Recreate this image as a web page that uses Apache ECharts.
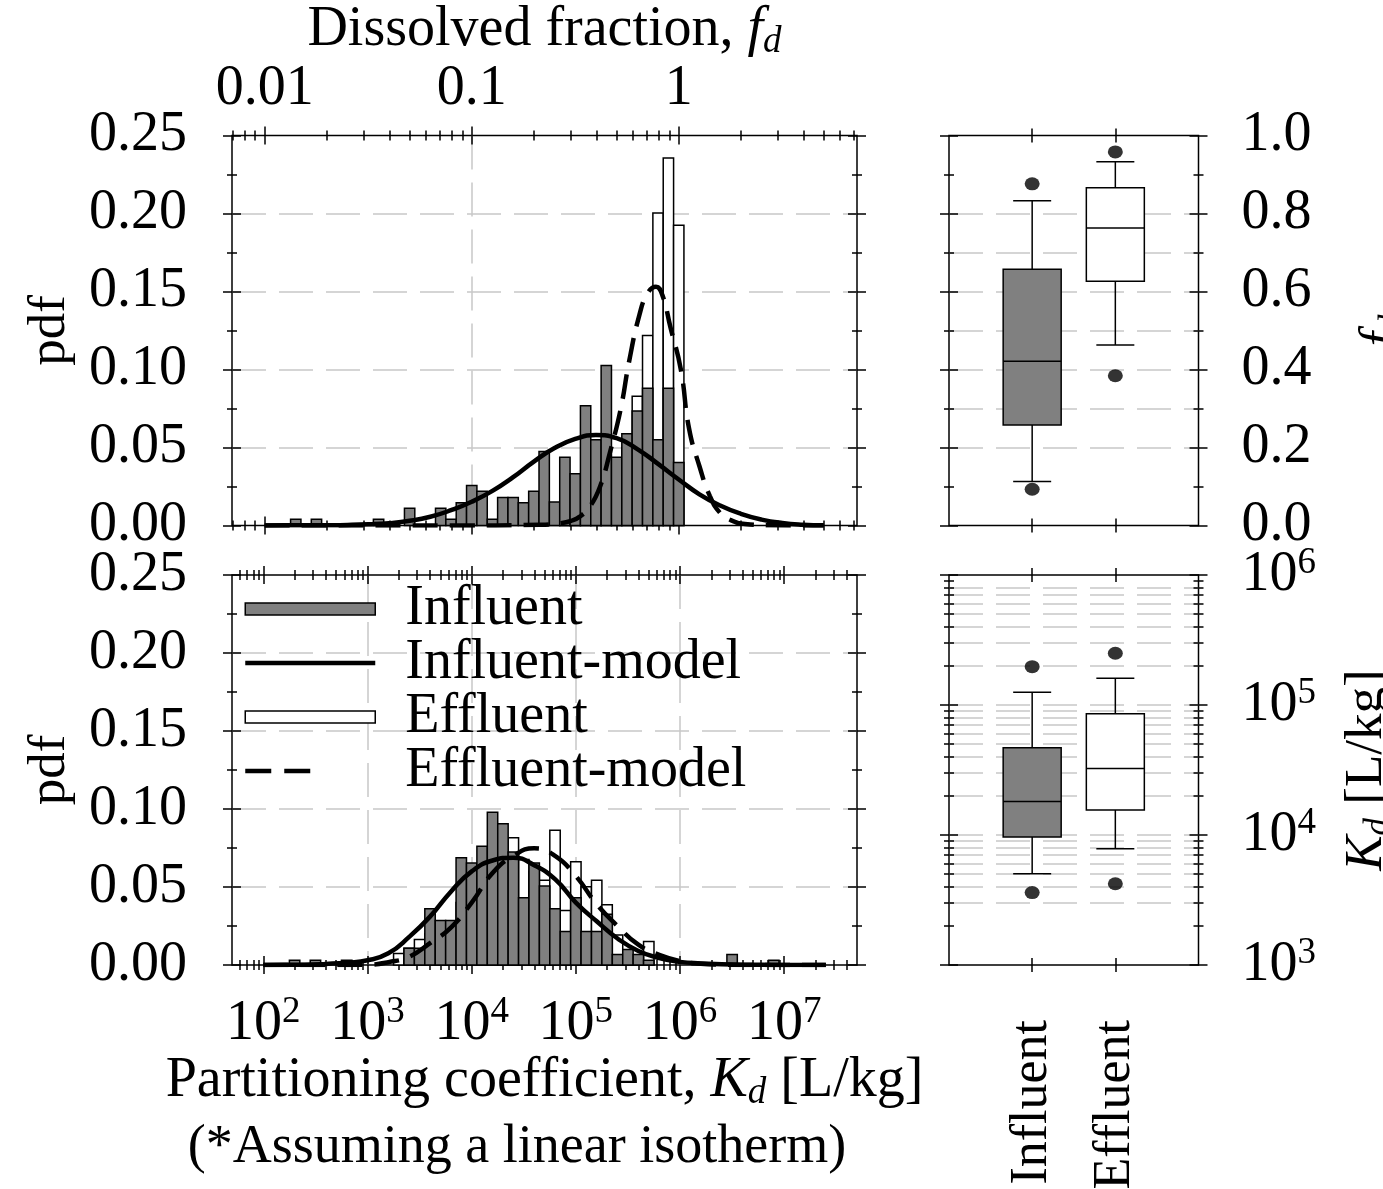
<!DOCTYPE html>
<html><head><meta charset="utf-8">
<script src="https://cdn.jsdelivr.net/npm/echarts@6/dist/echarts.min.js"></script>
<style>html,body{margin:0;padding:0;background:#fff}#c{width:1383px;height:1189px}</style>
</head><body><div id="c"></div>
<script>
// ================= DATA =================
// Histogram of log10(fd) (top panel): bins start, width, per-bin probability
const fdBinStart = -1.875, fdBinWidth = 0.05;
const fdInfluent = [0.004,0,0.004,0,0,0,0,0,0.004,0,
  0,0.011,0,0,0.011,0.004,0.0146,0.0257,0.022,0.004,
  0.018,0.018,0.0146,0.022,0.0475,0.015,0.0438,0.0332,0.0768,0.055,
  0.1025,0.0438,0.0588,0.0734,0.088,0.055,0.088,0.0404];
const fdEffluent = [0,0,0,0,0,0,0,0,0,0,
  0,0,0,0,0,0,0,0,0,0,
  0,0,0,0,0,0,0.005,0.008,0.015,0.02,
  0.03,0.035,0.05,0.0828,0.1218,0.2003,0.2356,0.1924];
// Histogram of log10(Kd) (bottom panel)
const kdBinStart = 2.25, kdBinWidth = 0.1;
const kdInfluent = [0.003,0,0.003,0,0,0.003,0,0,0,0,
  0,0.0107,0.0107,0.0361,0.0286,0.0286,0.0688,0.0654,0.0761,0.0979,
  0.0906,0.0724,0.0431,0.0654,0.0506,0.0361,0.0214,0.0431,0.0214,0.0214,
  0.0325,0.0068,0.01,0.0068,0.003,0,0,0,0,0,
  0,0,0.0068,0,0,0,0.003];
const kdEffluent = [0,0,0,0,0,0,0,0,0,0,
  0.0073,0.0107,0.0163,0.02,0.025,0.028,0.04,0.05,0.06,0.065,
  0.07,0.0816,0.0677,0.06,0.0543,0.0863,0.035,0.0662,0.0502,0.0543,
  0.0387,0.0192,0.005,0.004,0.015,0,0,0,0,0,
  0,0,0,0,0,0,0];
// Model curves
const fdInfModelX = [-2.0,-1.9,-1.8,-1.7,-1.6,-1.5,-1.4,-1.3,-1.2,-1.1,-1.0,-0.9,-0.8,-0.7,-0.6,-0.5,-0.4,-0.3,-0.2,-0.1,0.0,0.1,0.2,0.3,0.4,0.5,0.6,0.7];
const fdInfModelY = [0,0.0001,0.0001,0.0002,0.0004,0.0008,0.0015,0.003,0.0056,0.0098,0.0152,0.0222,0.0310,0.0410,0.0497,0.0555,0.0580,0.0560,0.0490,0.0395,0.0295,0.0200,0.0128,0.0075,0.0038,0.0016,0.0005,0.0001];
const fdEffModelX = [-2.0,-1.1,-0.67,-0.57,-0.52,-0.48,-0.43,-0.38,-0.33,-0.28,-0.24,-0.19,-0.15,-0.11,-0.08,-0.04,0.01,0.05,0.10,0.15,0.20,0.25,0.32,0.44,0.70];
const fdEffModelY = [0,0,0.0005,0.0015,0.003,0.0055,0.012,0.025,0.048,0.075,0.105,0.135,0.149,0.153,0.148,0.127,0.100,0.062,0.038,0.019,0.008,0.0035,0.001,0.0002,0];
const kdModelX = [2.0,2.2,2.4,2.6,2.8,3.0,3.2,3.4,3.6,3.8,4.0,4.2,4.4,4.6,4.8,5.0,5.2,5.4,5.6,5.8,6.0,6.2,6.4,6.6,6.8,7.0,7.2,7.4];
const kdInfModelY = [0,0.0001,0.0002,0.0007,0.0015,0.003,0.0075,0.018,0.031,0.047,0.060,0.067,0.0688,0.064,0.055,0.040,0.028,0.017,0.009,0.0045,0.002,0.001,0.0005,0.0002,0.0001,0,0,0];
const kdEffModelY = [0,0,0,0,0,0.0002,0.0018,0.0053,0.014,0.024,0.040,0.059,0.070,0.0748,0.070,0.057,0.039,0.025,0.013,0.0065,0.0025,0.0008,0.0002,0,0,0,0,0];
// Box plots: [low whisker, Q1, median, Q3, high whisker]
const boxCategories = ['Influent','Effluent'];
const fdBoxInfluent = [0.113,0.258,0.421,0.657,0.833];
const fdBoxEffluent = [0.463,0.626,0.763,0.866,0.933];
const fdOutInfluent = [0.876,0.093];
const fdOutEffluent = [0.958,0.384];
const kdBoxInfluent = [5035,9661,18070,46880,125600];
const kdBoxEffluent = [7834,15600,32430,85700,160300];
const kdOutInfluent = [197200,3606];
const kdOutEffluent = [250000,4217];
// Tick labels
const fdTickValues = [0.01,0.1,1];
const fdTickLabels = ['0.01','0.1','1'];
const kdTickExponents = [2,3,4,5,6,7];
const pdfTickValues = [0,0.05,0.10,0.15,0.20,0.25];
const fdBoxTickValues = [0,0.2,0.4,0.6,0.8,1.0];
const kdBoxTickExponents = [3,4,5,6];

// ================= STYLE / HELPERS =================
const FONT = 'Liberation Serif', BLACK = '#000';
function mkText(fs, fsSmall) {
  return {fontSize:fs, fontFamily:FONT, color:BLACK, rich:{
    b: {fontSize:fs, fontFamily:FONT, color:BLACK},
    sup: {fontSize:fsSmall, fontFamily:FONT, color:BLACK, padding:[0,0,24,0]},
    i: {fontSize:fs, fontFamily:FONT, color:BLACK, fontStyle:'italic'},
    sub: {fontSize:fsSmall, fontFamily:FONT, color:BLACK, fontStyle:'italic', padding:[24,0,0,0]}
  }};
}
const TXT = mkText(56, 37);       // horizontal text
const TXT_ROT = mkText(53, 35);   // rotated text
const SPLIT = {show:true, showMinLine:false, showMaxLine:false, lineStyle:{color:'#c8c8c8', width:1.5, type:[34,13]}};
const LW = 4.5, DASH = [25,12];

const fdMin = -2.158, fdMax = 0.861;
const kdMin = Math.log10(50), kdMax = Math.log10(5e7);
function logMinors(a, b) {
  const out = [];
  for (let n = Math.floor(a) - 1; n <= Math.ceil(b); n++)
    for (let k = 2; k <= 9; k++) { const v = n + Math.log10(k); if (v > a + 1e-6 && v < b - 1e-6) out.push(v); }
  return out;
}
const fdMajor = fdTickValues.map(Math.log10);
const fdMinor = logMinors(fdMin, fdMax);
const kdMajor = kdTickExponents.slice();
const kdMinor = logMinors(kdMin, kdMax);
const pdfMinor = [0.025,0.075,0.125,0.175,0.225];
const fdBoxMinor = [0.1,0.3,0.5,0.7,0.9];
const kdBoxMinor = logMinors(3, 6);

function ax(gi, pos, min, max, ticks, len, extra) {
  const a = {
    type:'value', gridIndex:gi, position:pos, min:min, max:max, offset:-len/2,
    axisLine:{show:false, onZero:false},
    axisTick:{show:len>0, inside:false, length:len, customValues:ticks, lineStyle:{color:BLACK, width:1.5}},
    axisLabel:{show:false},
    splitLine:{show:false},
    silent:true
  };
  return Object.assign(a, extra || {});
}
function lab(vals, margin, fmt, more, txt) {
  return Object.assign({show:true, customValues:vals, margin:margin, formatter:fmt}, txt || TXT, more || {});
}
const supFmt = v => '{b|10}{sup|' + Math.round(v) + '}';
const fdFmt = v => { const i = fdMajor.findIndex(t => Math.abs(t - v) < 1e-6); return i >= 0 ? fdTickLabels[i] : ''; };

const GBASE = {containLabel:false, outerBoundsMode:'none'};
const R_TL = Object.assign({left:232, top:135.5, width:625, height:390}, GBASE);
const R_BL = Object.assign({left:232, top:575, width:625, height:390}, GBASE);
const R_TR = Object.assign({left:949, top:135.5, width:249.5, height:390}, GBASE);
const R_BR = Object.assign({left:949, top:575, width:249.5, height:390}, GBASE);
const border = {show:true, borderColor:BLACK, borderWidth:1.5, backgroundColor:'transparent'};
const grids = [
  Object.assign({}, R_TL, border), Object.assign({}, R_TL),
  Object.assign({}, R_BL, border), Object.assign({}, R_BL),
  Object.assign({}, R_TR, border), Object.assign({}, R_TR),
  Object.assign({}, R_BR, border), Object.assign({}, R_BR)
];

const xAxes = [
  // g0 TL
  ax(0,'bottom',fdMin,fdMax,fdMajor,18,{splitLine:SPLIT}),
  ax(0,'top',fdMin,fdMax,fdMajor,18,{axisLabel:lab(fdMajor,27,fdFmt), name:'Dissolved fraction, {i|f}{sub|d}', nameLocation:'middle', nameGap:66, nameTextStyle:TXT}),
  // g1
  ax(1,'bottom',fdMin,fdMax,fdMinor,10), ax(1,'top',fdMin,fdMax,fdMinor,10),
  // g2 BL
  ax(2,'bottom',kdMin,kdMax,kdMajor,18,{splitLine:SPLIT, axisLabel:lab(kdMajor,38,supFmt), name:'Partitioning coefficient, {i|K}{sub|d} [L/kg]', nameLocation:'middle', nameGap:88, nameTextStyle:TXT}),
  ax(2,'top',kdMin,kdMax,kdMajor,18),
  // g3
  ax(3,'bottom',kdMin,kdMax,kdMinor,10), ax(3,'top',kdMin,kdMax,kdMinor,10),
  // g4 TR
  ax(4,'bottom',0,3,[1,2],14), ax(4,'top',0,3,[1,2],14),
  // g5
  ax(5,'bottom',0,3,[1,2],0), ax(5,'top',0,3,[1,2],0),
  // g6 BR
  ax(6,'bottom',0,3,[1,2],14,{axisLabel:lab([1,2],62,v => boxCategories[Math.round(v)-1],{rotate:90},mkText(52,35))}),
  ax(6,'top',0,3,[1,2],14),
  // g7
  ax(7,'bottom',0,3,[1,2],0), ax(7,'top',0,3,[1,2],0)
];
const yAxes = [
  // g0
  ax(0,'left',0,0.25,pdfTickValues,18,{splitLine:SPLIT, axisLabel:lab(pdfTickValues,54,v => v.toFixed(2)), name:'pdf', nameLocation:'middle', nameGap:164, nameTextStyle:TXT_ROT}),
  ax(0,'right',0,0.25,pdfTickValues,18),
  // g1
  ax(1,'left',0,0.25,pdfMinor,10), ax(1,'right',0,0.25,pdfMinor,10),
  // g2
  ax(2,'left',0,0.25,pdfTickValues,18,{splitLine:SPLIT, axisLabel:lab(pdfTickValues,54,v => v.toFixed(2)), name:'pdf', nameLocation:'middle', nameGap:164, nameTextStyle:TXT_ROT}),
  ax(2,'right',0,0.25,pdfTickValues,18),
  // g3
  ax(3,'left',0,0.25,pdfMinor,10), ax(3,'right',0,0.25,pdfMinor,10),
  // g4 TR
  ax(4,'left',0,1,fdBoxTickValues,18,{splitLine:SPLIT}),
  ax(4,'right',0,1,fdBoxTickValues,18,{axisLabel:lab(fdBoxTickValues,52,v => v.toFixed(1)), name:'{i|f}{sub|d}', nameLocation:'middle', nameGap:163, nameTextStyle:TXT_ROT}),
  // g5
  ax(5,'left',0,1,fdBoxMinor,10,{splitLine:SPLIT}), ax(5,'right',0,1,fdBoxMinor,10),
  // g6 BR
  ax(6,'left',3,6,kdBoxTickExponents,18,{splitLine:SPLIT}),
  ax(6,'right',3,6,kdBoxTickExponents,18,{axisLabel:lab(kdBoxTickExponents,52,supFmt), name:'{i|K}{sub|d} [L/kg]', nameLocation:'middle', nameGap:148, nameTextStyle:TXT_ROT}),
  // g7
  ax(7,'left',3,6,kdBoxMinor,10,{splitLine:SPLIT}), ax(7,'right',3,6,kdBoxMinor,10)
];

function histItems(start, width, heights) {
  return heights.map((h, i) => [start + i * width, start + (i + 1) * width, h]);
}
function histRender(fill) {
  return function (params, api) {
    const h = api.value(2);
    if (!h) return null;
    const p0 = api.coord([api.value(0), h]);
    const p1 = api.coord([api.value(1), 0]);
    return {type:'rect', shape:{x:p0[0], y:p0[1], width:p1[0]-p0[0], height:p1[1]-p0[1]},
      style:{fill:fill, stroke:BLACK, lineWidth:1.5}};
  };
}
const BOX_FILLS = ['#808080', '#ffffff'];
function boxRender(params, api) {
  const x = api.value(0);
  const c = v => api.coord([x, v]);
  const cx = c(api.value(3))[0];
  const yLo = c(api.value(1))[1], yQ1 = c(api.value(2))[1], yMed = c(api.value(3))[1],
        yQ3 = c(api.value(4))[1], yHi = c(api.value(5))[1];
  const bw = 58, cw = 38;
  const ls = {stroke:BLACK, lineWidth:1.5};
  return {type:'group', children:[
    {type:'line', shape:{x1:cx, y1:yHi, x2:cx, y2:yQ3}, style:ls},
    {type:'line', shape:{x1:cx, y1:yQ1, x2:cx, y2:yLo}, style:ls},
    {type:'line', shape:{x1:cx-cw/2, y1:yHi, x2:cx+cw/2, y2:yHi}, style:ls},
    {type:'line', shape:{x1:cx-cw/2, y1:yLo, x2:cx+cw/2, y2:yLo}, style:ls},
    {type:'rect', shape:{x:cx-bw/2, y:yQ3, width:bw, height:yQ1-yQ3}, style:{fill:BOX_FILLS[params.dataIndex], stroke:BLACK, lineWidth:1.5}},
    {type:'line', shape:{x1:cx-bw/2, y1:yMed, x2:cx+bw/2, y2:yMed}, style:ls}
  ]};
}
const lg = Math.log10;
const pairs = (xs, ys) => xs.map((x, i) => [x, ys[i]]);
const lineSeries = (name, xi, yi, data, dashed) => ({
  type:'line', name:name, xAxisIndex:xi, yAxisIndex:yi, data:data,
  smooth:0.5, symbol:'none', showSymbol:false, z:5, silent:true,
  lineStyle:{color:BLACK, width:LW, type: dashed ? DASH : 'solid', cap:'butt'},
  itemStyle:{color:BLACK}
});

const series = [
  // top-left histogram (fd)
  {type:'custom', name:'Effluent', xAxisIndex:0, yAxisIndex:0, z:2, silent:true,
   data:histItems(fdBinStart, fdBinWidth, fdEffluent), encode:{x:[0,1], y:2}, renderItem:histRender('#ffffff'),
   itemStyle:{color:'#ffffff', borderColor:BLACK, borderWidth:1.5}},
  {type:'custom', name:'Influent', xAxisIndex:0, yAxisIndex:0, z:3, silent:true,
   data:histItems(fdBinStart, fdBinWidth, fdInfluent), encode:{x:[0,1], y:2}, renderItem:histRender('#808080'),
   itemStyle:{color:'#808080', borderColor:BLACK, borderWidth:1.5}},
  lineSeries('Influent-model', 0, 0, pairs(fdInfModelX, fdInfModelY), false),
  lineSeries('Effluent-model', 0, 0, pairs(fdEffModelX, fdEffModelY), true),
  // bottom-left histogram (Kd)
  {type:'custom', name:'Effluent', xAxisIndex:4, yAxisIndex:4, z:2, silent:true,
   data:histItems(kdBinStart, kdBinWidth, kdEffluent), encode:{x:[0,1], y:2}, renderItem:histRender('#ffffff'),
   itemStyle:{color:'#ffffff', borderColor:BLACK, borderWidth:1.5}},
  {type:'custom', name:'Influent', xAxisIndex:4, yAxisIndex:4, z:3, silent:true,
   data:histItems(kdBinStart, kdBinWidth, kdInfluent), encode:{x:[0,1], y:2}, renderItem:histRender('#808080'),
   itemStyle:{color:'#808080', borderColor:BLACK, borderWidth:1.5}},
  lineSeries('Influent-model', 4, 4, pairs(kdModelX, kdInfModelY), false),
  lineSeries('Effluent-model', 4, 4, pairs(kdModelX, kdEffModelY), true),
  // top-right box (fd)
  {type:'custom', name:'fdBox', xAxisIndex:8, yAxisIndex:8, z:3, silent:true,
   data:[[1].concat(fdBoxInfluent), [2].concat(fdBoxEffluent)], encode:{x:0, y:[1,2,3,4,5]}, renderItem:boxRender},
  {type:'scatter', name:'fdOut', xAxisIndex:8, yAxisIndex:8, z:4, silent:true, symbol:'circle', symbolSize:[15,13],
   itemStyle:{color:BLACK},
   data:fdOutInfluent.map(v => [1, v]).concat(fdOutEffluent.map(v => [2, v]))},
  // bottom-right box (Kd)
  {type:'custom', name:'kdBox', xAxisIndex:12, yAxisIndex:12, z:3, silent:true,
   data:[[1].concat(kdBoxInfluent.map(lg)), [2].concat(kdBoxEffluent.map(lg))], encode:{x:0, y:[1,2,3,4,5]}, renderItem:boxRender},
  {type:'scatter', name:'kdOut', xAxisIndex:12, yAxisIndex:12, z:4, silent:true, symbol:'circle', symbolSize:[15,13],
   itemStyle:{color:BLACK},
   data:kdOutInfluent.map(v => [1, lg(v)]).concat(kdOutEffluent.map(v => [2, lg(v)]))}
];

const HIDE_DOT = {color:'rgba(0,0,0,0)', borderWidth:0, opacity:0};
const option = {
  animation:false,
  backgroundColor:'#ffffff',
  grid:grids,
  xAxis:xAxes,
  yAxis:yAxes,
  legend:{
    show:true, left:238, top:576, orient:'vertical', itemWidth:130, itemHeight:12, itemGap:-2,
    selectedMode:false, padding:5,
    textStyle:{fontSize:56, fontFamily:FONT, color:BLACK, lineHeight:54, padding:[0,0,0,25]},
    data:[
      {name:'Influent', icon:'rect', itemStyle:{color:'#808080', borderColor:BLACK, borderWidth:1.5}},
      {name:'Influent-model', itemStyle:HIDE_DOT, lineStyle:{color:BLACK, width:LW, type:'solid'}},
      {name:'Effluent', icon:'rect', itemStyle:{color:'#ffffff', borderColor:BLACK, borderWidth:1.5}},
      {name:'Effluent-model', itemStyle:HIDE_DOT, lineStyle:{color:BLACK, width:LW, type:[26,13,26,300]}}
    ]
  },
  graphic:[{
    type:'text', x:517, y:1148, silent:true,
    style:{text:'(*Assuming a linear isotherm)', font:'54px "Liberation Serif"', fontSize:54, fontFamily:FONT,
      fill:BLACK, textAlign:'center', textVerticalAlign:'middle', align:'center', verticalAlign:'middle'}
  }],
  series:series
};
const chart = echarts.init(document.getElementById('c'), null, {renderer:'canvas'});
chart.setOption(option);
</script>
</body></html>
